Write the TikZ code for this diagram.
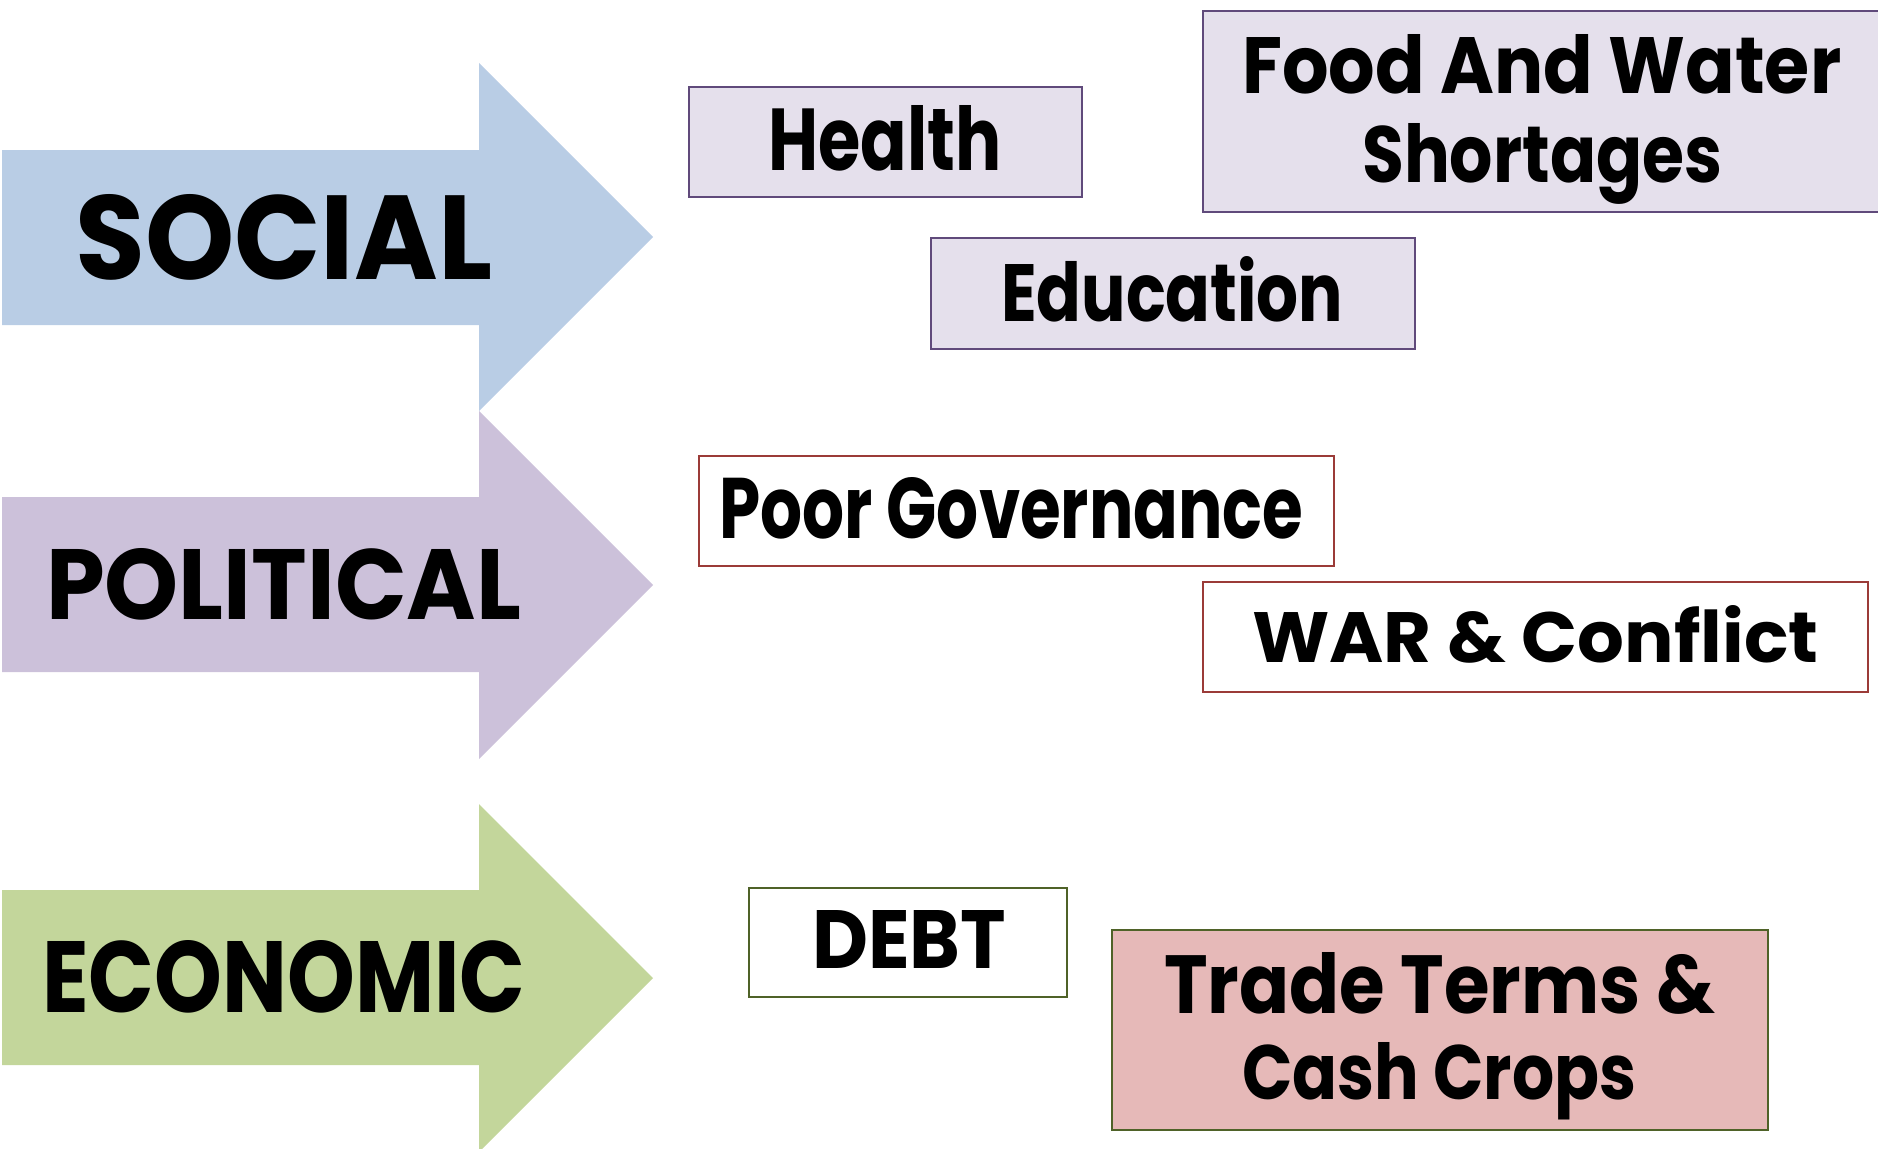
\documentclass[tikz,border=0pt]{standalone}
\usepackage{fontspec}
\setmainfont{Poppins}
\usepackage{graphicx}
\definecolor{socialc}{HTML}{B9CDE5}
\definecolor{politicalc}{HTML}{CCC1DA}
\definecolor{economicc}{HTML}{C3D69B}
\definecolor{lilac}{HTML}{E5E0EC}
\definecolor{purpleline}{HTML}{604A7B}
\definecolor{redline}{HTML}{9B3B38}
\definecolor{greenline}{HTML}{4F6228}
\definecolor{pinkfill}{HTML}{E6B9B8}
\tikzset{
  boxbase/.style={draw, line width=2pt, inner sep=0pt, anchor=north west},
  purplebox/.style={boxbase, draw=purpleline, fill=lilac},
  redbox/.style={boxbase, draw=redline, fill=white},
  greenbox/.style={boxbase, draw=greenline, fill=white},
  pinkbox/.style={boxbase, draw=greenline, fill=pinkfill},
  lbl/.style={inner sep=0pt, anchor=base west, text=black},
}
\newcommand{\fitlbl}[3]{\resizebox{#1pt}{#2pt}{\bfseries #3}}
\begin{document}
\begin{tikzpicture}[x=1pt,y=-1pt]
\useasboundingbox (0,0) rectangle (1878,1148);
\clip (0,0) rectangle (1878,1148);
% arrows
\fill[socialc] (2,150) -- (479,150) -- (479,63) -- (653,237) -- (479,411) -- (479,325) -- (2,325) -- cycle;
\fill[politicalc] (2,497) -- (479,497) -- (479,411) -- (653,585) -- (479,759) -- (479,672) -- (2,672) -- cycle;
\fill[economicc] (2,890) -- (479,890) -- (479,804) -- (653,978) -- (479,1152) -- (479,1065) -- (2,1065) -- cycle;
\node[lbl] (social) at (75,279) {\fitlbl{417}{85}{SOCIAL}};
\node[lbl] (political) at (46,619) {\fitlbl{475}{71}{POLITICAL}};
\node[lbl] (economic) at (42,1012) {\fitlbl{483}{72}{ECONOMIC}};
% boxes
\node[purplebox, minimum width=393pt, minimum height=110pt] (healthbox) at (688,86) {};
\node[purplebox, minimum width=700pt, minimum height=201pt] (foodbox) at (1202,10) {};
\node[purplebox, minimum width=484pt, minimum height=111pt] (edubox) at (930,237) {};
\node[redbox, minimum width=635pt, minimum height=110pt] (govbox) at (698,455) {};
\node[redbox, minimum width=665pt, minimum height=110pt] (warbox) at (1202,581) {};
\node[greenbox, minimum width=318pt, minimum height=109pt] (debtbox) at (748,887) {};
\node[pinkbox, minimum width=656pt, minimum height=200pt] (tradebox) at (1111,929) {};
% labels
\node[lbl] (health) at (768,170) {\fitlbl{233}{65}{Health}};
\node[lbl] (food1) at (1242,93) {\fitlbl{599}{59}{Food And Water}};
\node[lbl] (food2) at (1362,182) {\fitlbl{360}{59}{Shortages}};
\node[lbl] (edu) at (1001,321) {\fitlbl{342}{65}{Education}};
\node[lbl] (gov) at (719,538) {\fitlbl{584}{61}{Poor Governance}};
\node[lbl] (war) at (1252,662) {\fitlbl{566}{57}{WAR \& Conflict}};
\node[lbl] (debt) at (812,968) {\fitlbl{194}{58}{DEBT}};
\node[lbl] (trade1) at (1164,1013) {\fitlbl{551}{61}{Trade Terms \&}};
\node[lbl] (trade2) at (1242,1099) {\fitlbl{394}{57}{Cash Crops}};
\end{tikzpicture}
\end{document}
